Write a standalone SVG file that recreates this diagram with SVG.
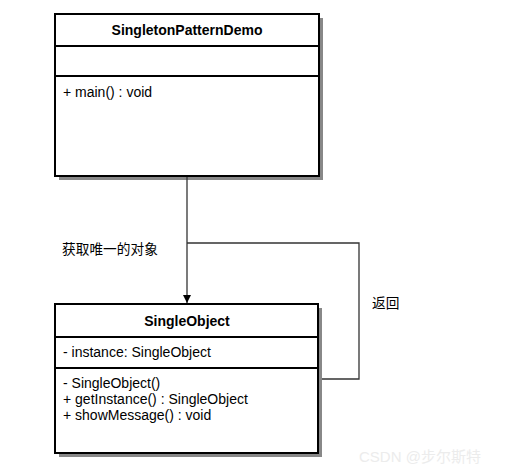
<svg xmlns="http://www.w3.org/2000/svg" width="510" height="475" viewBox="0 0 510 475">
<style>
.shadow{fill:#888888;stroke:none}
.box{fill:#ffffff;stroke:#000000;stroke-width:2}
.div{stroke:#000000;stroke-width:2}
.t{font-family:"Liberation Sans",Arial,sans-serif;font-size:14px;fill:#000000}
.b{font-weight:bold;text-anchor:middle}
.lbl{font-family:"Liberation Sans","Noto Sans CJK SC",sans-serif;font-size:13.7px;fill:#000000}
.edge{fill:none;stroke:#333333;stroke-width:1.3}
</style>
<defs>
<marker id="arr" markerWidth="8" markerHeight="8" refX="8" refY="4" orient="auto" markerUnits="userSpaceOnUse">
<path d="M0,0 L8,4 L0,8 Z" fill="#000000"/>
</marker>
</defs>
<rect width="510" height="475" fill="#ffffff"/>
<g id="SingletonPatternDemo">
<rect class="shadow" x="59" y="18" width="264" height="162"/>
<rect class="box" x="55" y="14" width="264" height="162"/>
<line class="div" x1="55" y1="46" x2="319" y2="46"/>
<line class="div" x1="55" y1="76" x2="319" y2="76"/>
<text class="t b" x="187" y="35">SingletonPatternDemo</text>
<text class="t" x="63" y="97">+ main() : void</text>
</g>
<g id="SingleObject">
<rect class="shadow" x="59" y="308" width="263" height="149"/>
<rect class="box" x="55" y="304" width="263" height="149"/>
<line class="div" x1="55" y1="337" x2="318" y2="337"/>
<line class="div" x1="55" y1="368" x2="318" y2="368"/>
<text class="t b" x="187" y="326">SingleObject</text>
<text class="t" x="63" y="357">- instance: SingleObject</text>
<text class="t" x="63" y="388">- SingleObject()</text>
<text class="t" x="63" y="404">+ getInstance() : SingleObject</text>
<text class="t" x="63" y="420">+ showMessage() : void</text>
</g>
<g id="connectors">
<line class="edge" x1="187" y1="177" x2="187" y2="303" marker-end="url(#arr)"/>
<polyline class="edge" points="187,243 359,243 359,379 322,379"/>
<text class="lbl" x="62" y="254">获取唯一的对象</text>
<text class="lbl" x="372" y="308">返回</text>
</g>
<text x="359" y="462" style="font-family:'Liberation Sans','Noto Sans CJK SC',sans-serif;font-size:15px;fill:#ececec">CSDN @步尔斯特</text>
</svg>
